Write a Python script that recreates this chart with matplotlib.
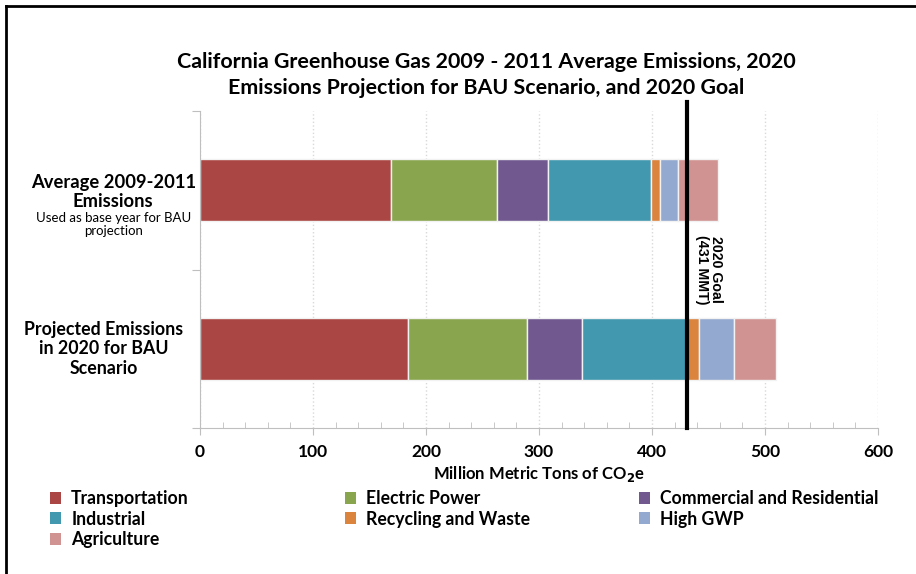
import numpy as np
import matplotlib
matplotlib.use('Agg')
import matplotlib.pyplot as plt
from matplotlib.lines import Line2D
from matplotlib.patches import Patch
import matplotlib.transforms as mtransforms

# data (million metric tons CO2e)
sectors = ['Transportation', 'Electric Power', 'Commercial and Residential',
           'Industrial', 'Recycling and Waste', 'High GWP', 'Agriculture']
avg_2009_2011 = [169, 94, 45, 91, 8, 16, 35]
bau_2020 = [184, 105, 49, 92, 12, 31, 37]
goal_2020 = 431
colors = ['#AA4643', '#89A54E', '#71588F', '#4198AF', '#DB843D', '#93A9CF', '#D19392']

plt.rcParams['font.family'] = ['Lato', 'DejaVu Sans']

fig = plt.figure(figsize=(9.16, 5.74), dpi=100)
ax = fig.add_axes([200/916, 1-428.3/574, 678/916, 317.6/574])

rows = [avg_2009_2011, bau_2020]
ypos = [0, 1]
for y, vals in zip(ypos, rows):
    left = 0
    for v, c in zip(vals, colors):
        ax.barh(y, v, left=left, height=0.39, color=c, edgecolor='#f2f2f2', linewidth=1)
        left += v

ax.set_xlim(0, 600)
ax.set_ylim(1.5, -0.5)
ax.set_xticks(np.arange(0, 601, 100))
ax.set_xticks(np.arange(0, 601, 20), minor=True)
ax.set_yticks([-0.5, 0.5, 1.5])
ax.set_yticklabels([])
ax.tick_params(axis='x', which='major', direction='out', length=5, color='#bfbfbf',
               labelsize=12.5, pad=6)
ax.tick_params(axis='x', which='minor', direction='in', length=4, color='#bfbfbf')
ax.tick_params(axis='y', direction='out', length=6, color='#bfbfbf')
for lbl in ax.get_xticklabels():
    lbl.set_fontweight('bold')
ax.grid(axis='x', which='major', linestyle=':', color='#d9d9d9', linewidth=1)
ax.set_axisbelow(True)
for s in ['top', 'right']:
    ax.spines[s].set_visible(False)
for s in ['left', 'bottom']:
    ax.spines[s].set_color('#bfbfbf')

ax.set_xlabel('Million Metric Tons of CO$_\\mathbf{2}$e', fontsize=12, fontweight='bold',
              labelpad=3)

# goal line
ax.plot([goal_2020, goal_2020], [1.5, -0.555], color='black', linewidth=3, clip_on=False, zorder=5)
ax.text(450, 0.5, '2020 Goal\n(431 MMT)', rotation=270, ha='center', va='center',
        fontsize=10.2, fontweight='bold', family=['Liberation Sans'], linespacing=1.0)

# category labels
trans = mtransforms.blended_transform_factory(ax.transAxes, ax.transData)
ax.text(-0.128, 0.012, 'Average 2009-2011\nEmissions', transform=trans, ha='center',
        va='center', fontsize=13.2, fontweight='bold', linespacing=1.1)
ax.text(-0.128, 0.218, 'Used as base year for BAU\nprojection', transform=trans, ha='center',
        va='center', fontsize=9.5, linespacing=1.1)
ax.text(-0.142, 1.0, 'Projected Emissions\nin 2020 for BAU\nScenario', transform=trans,
        ha='center', va='center', fontsize=12.8, fontweight='bold', linespacing=1.2)

fig.text(486/916, 1-75/574, 'California Greenhouse Gas 2009 - 2011 Average Emissions, 2020\n'
         'Emissions Projection for BAU Scenario, and 2020 Goal', ha='center', va='center',
         fontsize=15.4, fontweight='bold', linespacing=1.35)

# legend, filled row by row in three columns
col_x = [50, 345, 639]
for i, x in enumerate(col_x):
    idx = list(range(i, len(sectors), 3))
    handles = [Patch(facecolor=colors[k], edgecolor='none') for k in idx]
    leg = fig.legend(handles, [sectors[k] for k in idx], loc='upper left',
                     bbox_to_anchor=(x/916, 1-490/574), frameon=False, fontsize=12.7,
                     handlelength=0.65, handleheight=0.65, handletextpad=0.55,
                     labelspacing=0.2, borderpad=0, borderaxespad=0)
    for t in leg.get_texts():
        t.set_fontweight('bold')

# frame around the chart
fig.add_artist(Line2D([6/916, 6/916], [0, 1-6/574], color='black', linewidth=2))
fig.add_artist(Line2D([6/916, 1], [1-6/574, 1-6/574], color='black', linewidth=2))

fig.savefig('out.png', dpi=100)
